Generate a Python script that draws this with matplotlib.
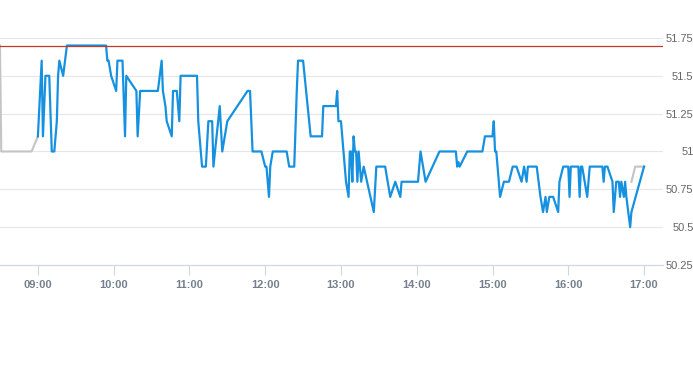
import matplotlib
matplotlib.use("Agg")
import matplotlib.pyplot as plt
import matplotlib.dates as mdates
import pandas as pd

DAY = "2024-01-02 "

# intraday trades (blue)
trade_times = [
    "09:00", "09:03", "09:04", "09:06", "09:09", "09:11", "09:13", "09:15", "09:16", "09:17",
    "09:20", "09:23", "09:54", "09:55", "09:56", "09:58", "10:02", "10:03", "10:07", "10:09",
    "10:10", "10:18", "10:19", "10:21", "10:35", "10:38", "10:39", "10:41", "10:42", "10:46",
    "10:47", "10:50", "10:52", "10:53", "11:06", "11:07", "11:10", "11:13", "11:15", "11:18",
    "11:19", "11:24", "11:26", "11:30", "11:46", "11:48", "11:50", "11:57", "12:00", "12:01",
    "12:03", "12:04", "12:06", "12:17", "12:19", "12:23", "12:25", "12:26", "12:30", "12:36",
    "12:45", "12:46", "12:56", "12:57", "12:58", "13:00", "13:04", "13:06", "13:07", "13:08",
    "13:09", "13:10", "13:11", "13:12", "13:13", "13:14", "13:16", "13:18", "13:26", "13:28",
    "13:35", "13:39", "13:43", "13:47", "13:48", "14:01", "14:03", "14:07", "14:18", "14:31",
    "14:32", "14:33", "14:34", "14:40", "14:52", "14:54", "15:00", "15:01", "15:02", "15:03",
    "15:06", "15:09", "15:13", "15:16", "15:19", "15:23", "15:25", "15:27", "15:28", "15:35",
    "15:38", "15:40", "15:42", "15:43", "15:45", "15:48", "15:52", "15:53", "15:56", "16:00",
    "16:01", "16:02", "16:08", "16:09", "16:10", "16:11", "16:15", "16:17", "16:27", "16:28",
    "16:29", "16:31", "16:35", "16:36", "16:38", "16:40", "16:41", "16:42", "16:44", "16:45",
    "16:46", "16:49", "16:50", "17:00",
]
trade_prices = [
    51.1, 51.6, 51.1, 51.5, 51.5, 51.0, 51.0, 51.2, 51.5, 51.6,
    51.5, 51.7, 51.7, 51.6, 51.6, 51.5, 51.4, 51.6, 51.6, 51.1,
    51.5, 51.4, 51.1, 51.4, 51.4, 51.6, 51.4, 51.3, 51.2, 51.1,
    51.4, 51.4, 51.2, 51.5, 51.5, 51.2, 50.9, 50.9, 51.2, 51.2,
    50.9, 51.3, 51.0, 51.2, 51.4, 51.4, 51.0, 51.0, 50.9, 50.9,
    50.7, 50.9, 51.0, 51.0, 50.9, 50.9, 51.4, 51.6, 51.6, 51.1,
    51.1, 51.3, 51.3, 51.4, 51.2, 51.2, 50.8, 50.7, 51.0, 51.0,
    50.8, 51.1, 51.0, 51.0, 50.8, 51.0, 50.8, 50.9, 50.6, 50.9,
    50.9, 50.7, 50.8, 50.7, 50.8, 50.8, 51.0, 50.8, 51.0, 51.0,
    50.9, 50.93, 50.9, 51.0, 51.0, 51.1, 51.1, 51.2, 51.0, 51.0,
    50.7, 50.8, 50.8, 50.9, 50.9, 50.8, 50.9, 50.8, 50.9, 50.9,
    50.7, 50.6, 50.7, 50.6, 50.7, 50.7, 50.6, 50.8, 50.9, 50.9,
    50.7, 50.9, 50.9, 50.7, 50.9, 50.9, 50.7, 50.9, 50.9, 50.8,
    50.9, 50.9, 50.8, 50.6, 50.8, 50.8, 50.7, 50.8, 50.7, 50.8,
    50.7, 50.5, 50.6, 50.9,
]

# pre/post market quotes (gray)
pre_times = ["08:30", "08:31", "08:55", "09:00"]
pre_prices = [51.7, 51.0, 51.0, 51.1]
post_times = ["16:50", "16:53", "17:00"]
post_prices = [50.8, 50.9, 50.9]

ref_level = 51.70
y_ticks = [50.25, 50.5, 50.75, 51.0, 51.25, 51.5, 51.75]
y_labels = ["50.25", "50.5", "50.75", "51", "51.25", "51.5", "51.75"]
x_hours = ["09:00", "10:00", "11:00", "12:00", "13:00", "14:00", "15:00", "16:00", "17:00"]


def to_dt(times):
    return pd.to_datetime([DAY + t for t in times])


plt.rcParams["font.family"] = ["Liberation Sans", "DejaVu Sans"]

fig = plt.figure(figsize=(6.93, 3.65), dpi=100)
ax = fig.add_axes([0.0, 0.274, 0.9567, 0.622])

ax.plot(to_dt(pre_times), pre_prices, color="#c4c4c4", lw=1.5, zorder=2)
ax.plot(to_dt(post_times), post_prices, color="#c4c4c4", lw=1.5, zorder=2)
ax.plot(to_dt(trade_times), trade_prices, color="#1691e0", lw=1.6, zorder=3,
        solid_joinstyle="round")
ax.axhline(ref_level, color="#c0392b", lw=0.9, zorder=4)

ax.set_xlim(pd.Timestamp(DAY + "08:30"), pd.Timestamp(DAY + "17:15"))
ax.set_ylim(50.25, 51.75)

ax.set_xticks(to_dt(x_hours))
ax.xaxis.set_major_formatter(mdates.DateFormatter("%H:%M"))
ax.tick_params(axis="x", length=7, width=0.8, color="#ccd6eb", pad=4,
               labelsize=8, labelcolor="#75808c")
for lbl in ax.get_xticklabels():
    lbl.set_fontweight("bold")

ax.yaxis.tick_right()
ax.set_yticks(y_ticks)
ax.set_yticklabels(y_labels)
ax.tick_params(axis="y", length=0, pad=22, labelsize=8, labelcolor="#666666")
for lbl in ax.get_yticklabels():
    lbl.set_horizontalalignment("right")

ax.grid(axis="y", color="#e6e6e6", lw=0.8)
ax.set_axisbelow(True)
for side in ["top", "left", "right"]:
    ax.spines[side].set_visible(False)
ax.spines["bottom"].set_color("#ccd6eb")
ax.spines["bottom"].set_linewidth(0.8)

fig.savefig("out.png", dpi=100)
